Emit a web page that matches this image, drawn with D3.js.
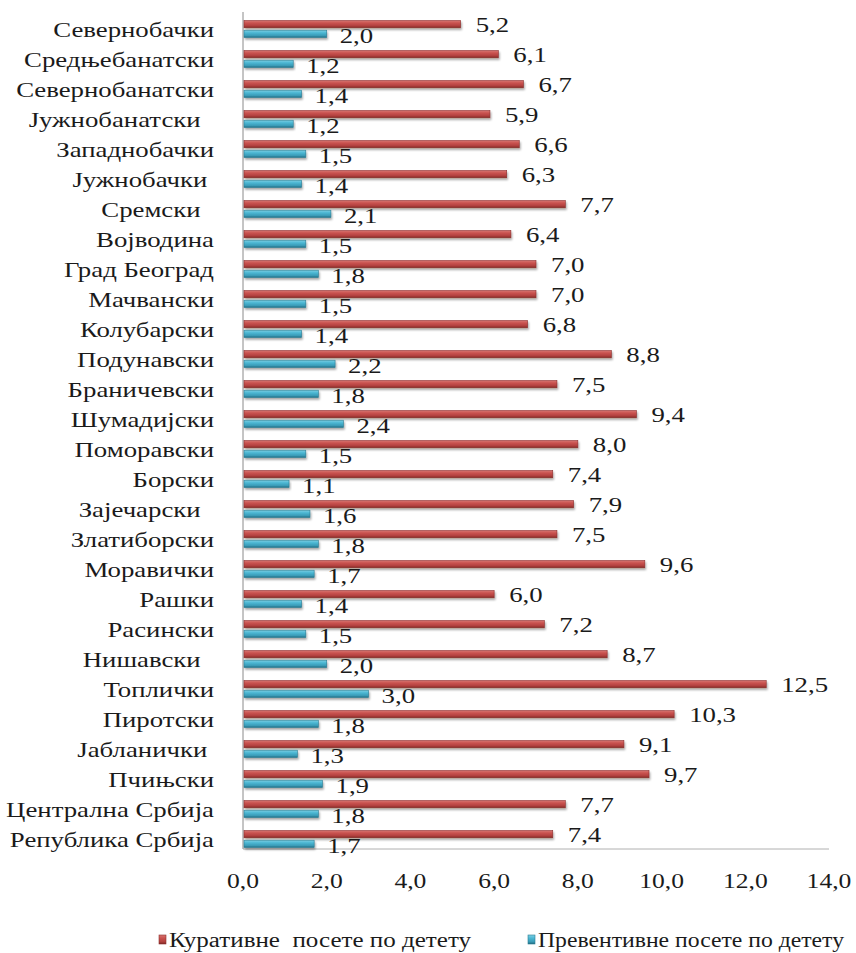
<!DOCTYPE html>
<html>
<head>
<meta charset="utf-8">
<script src="https://cdn.jsdelivr.net/npm/d3@7"></script>
<style>
  html, body { margin: 0; padding: 0; background: #fff; }
  svg text { fill: #1a1a1a; white-space: pre; }
</style>
</head>
<body>
<script>
// Districts, top to bottom (some labels carry trailing spaces)
const categories = [
  "Севернобачки", "Средњебанатски", "Севернобанатски", "Јужнобанатски  ",
  "Западнобачки", "Јужнобачки ", "Сремски  ", "Војводина", "Град Београд",
  "Мачвански", "Колубарски", "Подунавски", "Браничевски", "Шумадијски",
  "Поморавски", "Борски", "Зајечарски  ", "Златиборски", "Моравички", "Рашки",
  "Расински", "Нишавски  ", "Топлички", "Пиротски", "Јабланички ", "Пчињски",
  "Централна Србија", "Република Србија"
];
// Curative visits per child
const curative = [5.2, 6.1, 6.7, 5.9, 6.6, 6.3, 7.7, 6.4, 7.0, 7.0, 6.8, 8.8, 7.5, 9.4,
  8.0, 7.4, 7.9, 7.5, 9.6, 6.0, 7.2, 8.7, 12.5, 10.3, 9.1, 9.7, 7.7, 7.4];
// Preventive visits per child
const preventive = [2.0, 1.2, 1.4, 1.2, 1.5, 1.4, 2.1, 1.5, 1.8, 1.5, 1.4, 2.2, 1.8, 2.4,
  1.5, 1.1, 1.6, 1.8, 1.7, 1.4, 1.5, 2.0, 3.0, 1.8, 1.3, 1.9, 1.8, 1.7];
const seriesNames = ["Куративне  посете по детету", "Превентивне посете по детету"];
const tickValues = [0, 2, 4, 6, 8, 10, 12, 14];

const W = 856, H = 953;
const FONT = "'Liberation Serif', 'Times New Roman', serif";
const SX = 1.34; // horizontal stretch of the serif lettering
const fmt = v => d3.format(".1f")(v).replace(".", ",");

const svg = d3.select("body").append("svg").attr("width", W).attr("height", H)
  .attr("font-family", FONT);

const x = d3.scaleLinear().domain([0, 14]).range([243, 829]);
const y = d3.scaleBand().domain(categories).range([10, 850]);
const inner = d3.scaleBand().domain(["k", "p"]).range([10.5, 27.5]).paddingInner(0.25);

const rows = categories.map((c, i) => ({ c, k: curative[i], p: preventive[i] }));

// Gradients for the rounded bar look
const defs = svg.append("defs");
function grad(id, stops) {
  const g = defs.append("linearGradient").attr("id", id)
    .attr("x1", 0).attr("y1", 0).attr("x2", 0).attr("y2", 1);
  stops.forEach(([o, col]) => g.append("stop").attr("offset", o).attr("stop-color", col));
}
grad("gRed", [[0, "#d77572"], [0.35, "#c9524f"], [0.75, "#b0403d"], [1, "#7d2624"]]);
grad("gBlue", [[0, "#7fd0e4"], [0.35, "#4cb7d3"], [0.75, "#3a9bb6"], [1, "#1f6a80"]]);
const shadow = defs.append("filter").attr("id", "sh")
  .attr("x", "-5%").attr("y", "-50%").attr("width", "110%").attr("height", "250%");
shadow.append("feGaussianBlur").attr("in", "SourceAlpha").attr("stdDeviation", 1.2).attr("result", "b");
shadow.append("feOffset").attr("in", "b").attr("dx", 1).attr("dy", 2).attr("result", "o");
shadow.append("feComponentTransfer").attr("in", "o").attr("result", "o2")
  .append("feFuncA").attr("type", "linear").attr("slope", 0.35);
const m = shadow.append("feMerge");
m.append("feMergeNode").attr("in", "o2");
m.append("feMergeNode").attr("in", "SourceGraphic");

// Axis lines
svg.append("line").attr("x1", x(0)).attr("x2", x(0)).attr("y1", 12).attr("y2", 849)
  .attr("stroke", "#8a8a8a").attr("stroke-width", 1);
svg.append("line").attr("x1", x(0)).attr("x2", x(14)).attr("y1", 849).attr("y2", 849)
  .attr("stroke", "#b0b0b0").attr("stroke-width", 1);

// Bars
const g = svg.append("g");
const row = g.selectAll("g.row").data(rows).join("g").attr("class", "row")
  .attr("transform", d => `translate(0,${y(d.c)})`);

row.append("rect").attr("x", x(0) + 1).attr("y", inner("k"))
  .attr("width", d => x(d.k) - x(0) - 1).attr("height", inner.bandwidth())
  .attr("fill", "url(#gRed)").attr("stroke", "#8c2f2d").attr("stroke-width", 0.6)
  .attr("filter", "url(#sh)");
row.append("rect").attr("x", x(0) + 1).attr("y", inner("p"))
  .attr("width", d => x(d.p) - x(0) - 1).attr("height", inner.bandwidth())
  .attr("fill", "url(#gBlue)").attr("stroke", "#2a7d93").attr("stroke-width", 0.6)
  .attr("filter", "url(#sh)");

// Value labels
row.append("text")
  .attr("transform", d => `translate(${x(d.k) + 15},${inner("k") + inner.bandwidth() / 2 + 8}) scale(${SX},1)`)
  .attr("font-size", 20).text(d => fmt(d.k));
row.append("text")
  .attr("transform", d => `translate(${x(d.p) + 13},${inner("p") + inner.bandwidth() / 2 + 9}) scale(${SX},1)`)
  .attr("font-size", 20).text(d => fmt(d.p));

// Category labels
row.append("text")
  .attr("transform", d => `translate(214,${inner("k") + inner.bandwidth() / 2 + 13}) scale(${SX},1)`)
  .attr("text-anchor", "end").attr("font-size", 20).text(d => d.c);

// Tick labels
svg.append("g").selectAll("text").data(tickValues).join("text")
  .attr("transform", d => `translate(${x(d)},${888}) scale(1.28,1)`)
  .attr("text-anchor", "middle").attr("font-size", 20).text(d => fmt(d));

// Legend
const legend = svg.append("g");
const legX = [159, 528];
const legLen = [302, 306];
const legFill = ["url(#gRed)", "url(#gBlue)"];
const legStroke = ["#8c2f2d", "#2a7d93"];
seriesNames.forEach((name, i) => {
  legend.append("rect").attr("x", legX[i]).attr("y", 935).attr("width", 7).attr("height", 9)
    .attr("fill", legFill[i]).attr("stroke", legStroke[i]).attr("stroke-width", 0.6);
  legend.append("text")
    .attr("x", legX[i] + 10).attr("y", 947)
    .attr("textLength", legLen[i]).attr("lengthAdjust", "spacingAndGlyphs")
    .attr("font-size", 20).text(name);
});
</script>
</body>
</html>
